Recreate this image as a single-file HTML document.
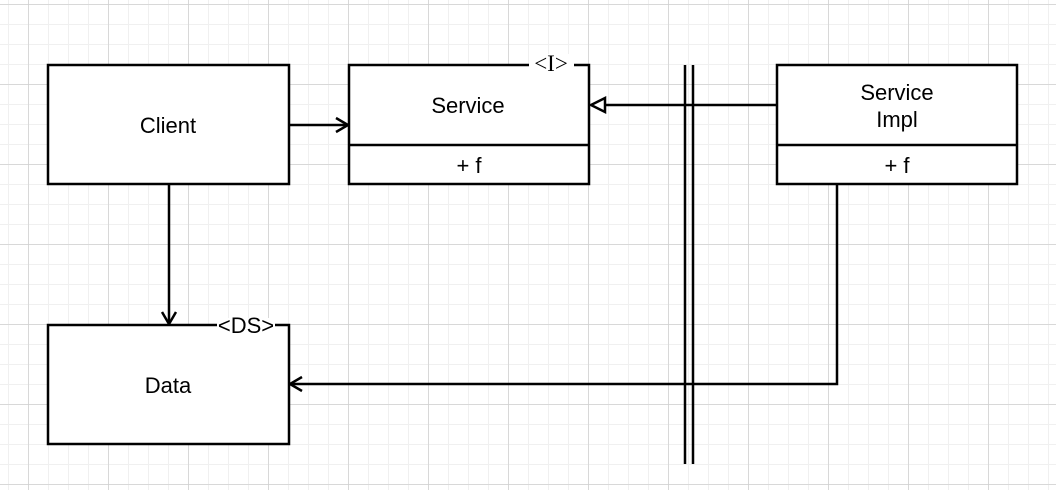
<!DOCTYPE html>
<html><head><style>
body{margin:0;background:#fff}
svg{display:block}
text{font-family:"Liberation Sans",sans-serif;font-size:22px;fill:#000}
</style></head><body>
<svg width="1056" height="490" viewBox="0 0 1056 490" xmlns="http://www.w3.org/2000/svg">
<defs>
<pattern id="minor" width="20" height="20" patternUnits="userSpaceOnUse" x="8" y="4">
<path d="M0 0H20M0 0V20" stroke="#f0f0f0" stroke-width="2" fill="none"/>
</pattern>
<pattern id="major" width="80" height="80" patternUnits="userSpaceOnUse" x="28" y="4">
<path d="M0 0H80M0 0V80" stroke="#cfcfcf" stroke-width="1.5" fill="none"/>
</pattern>
</defs>
<rect width="1056" height="490" fill="url(#minor)"/>
<rect width="1056" height="490" fill="url(#major)"/>
<g stroke="#000" stroke-width="2.5" fill="none">
<line x1="685" y1="65" x2="685" y2="464"/>
<line x1="693" y1="65" x2="693" y2="464"/>
<line x1="289" y1="125" x2="347" y2="125"/>
<polyline points="336,118 348,125 336,132"/>
<line x1="777" y1="105" x2="604" y2="105"/>
<polygon points="591,105 605,98 605,112" fill="#fff"/>
<line x1="169" y1="184" x2="169" y2="323"/>
<polyline points="162,312 169,324 176,312"/>
<polyline points="837,184 837,384 291,384"/>
<polyline points="302,377 290,384 302,391"/>
</g>
<g stroke="#000" stroke-width="2.5" fill="#fff">
<rect x="48" y="65" width="241" height="119"/>
<rect x="349" y="65" width="240" height="119"/>
<line x1="349" y1="145" x2="589" y2="145"/>
<rect x="777" y="65" width="240" height="119"/>
<line x1="777" y1="145" x2="1017" y2="145"/>
<rect x="48" y="325" width="241" height="119"/>
</g>
<rect x="529" y="54" width="45" height="16" fill="#fff"/>
<rect x="217" y="318" width="58" height="14" fill="#fff"/>
<text x="168" y="133" text-anchor="middle">Client</text>
<text x="468" y="113" text-anchor="middle">Service</text>
<text x="469" y="173" text-anchor="middle">+ f</text>
<text x="897" y="100" text-anchor="middle">Service</text>
<text x="897" y="127" text-anchor="middle">Impl</text>
<text x="897" y="173" text-anchor="middle">+ f</text>
<text x="168" y="393" text-anchor="middle">Data</text>
<text x="551" y="71" text-anchor="middle" style="font-family:'Liberation Serif',serif;font-size:23px">&lt;I&gt;</text>
<text x="246" y="333" text-anchor="middle">&lt;DS&gt;</text>
</svg>
</body></html>
